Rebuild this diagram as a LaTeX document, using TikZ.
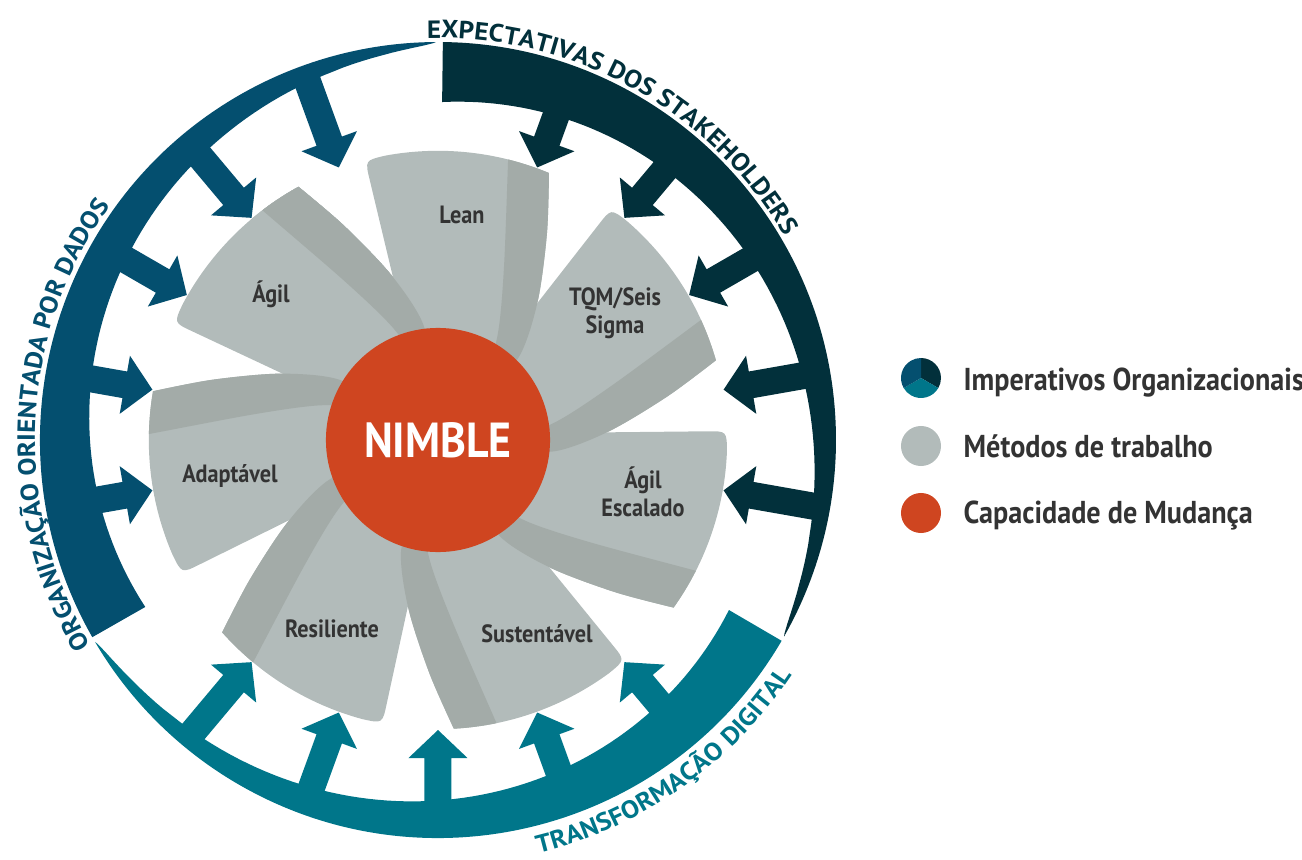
\documentclass[tikz,border=0pt]{standalone}
\usepackage{fontspec}
\setmainfont{PT Sans}[FakeStretch=0.89]
\newfontfamily\ringfam{PT Sans}[FakeStretch=1.08]
\usetikzlibrary{decorations.text}
\definecolor{navy}{HTML}{02303B}
\definecolor{ocean}{HTML}{044F6F}
\definecolor{sea}{HTML}{00768A}
\definecolor{petalbg}{HTML}{B2BBBA}
\definecolor{petalrim}{HTML}{A3ABA8}
\definecolor{core}{HTML}{CF4520}
\definecolor{ink}{HTML}{333333}
\newcommand\ringfont{\ringfam\bfseries\fontsize{7.1}{8}\selectfont}
% one blade, drawn for the top position and turned for the others
\newcommand\petalpath{(30,30) -- plot[smooth] coordinates {(45,40) (82,85) (100,140) (109,207) (111,267)}
  arc[start angle=67.4, end angle=100.5, radius=289] .. controls (-73,279.6) .. (-68.3,260.2)
  -- (-30,100) -- (0,20) -- cycle}
\newcommand\rimpath{(35,20) -- plot[smooth] coordinates {(45,50) (60,107) (66,173) (70,277) (72,330)}
  -- (250,330) -- (250,0) -- cycle}
\newcommand\inarrow{(290,0) -- (318,29.5) -- (318,13.5) -- (395,13.5) -- (395,-13.5) -- (318,-13.5) -- (318,-29.5) -- cycle}
\newcommand\drawpetal[1]{%
  \begin{scope}[rotate=#1]
    \fill[petal] \petalpath;
    \begin{scope}
      \clip \petalpath;
      \fill[rim] \rimpath;
    \end{scope}
  \end{scope}}
\tikzset{
  petal/.style={fill=petalbg},
  rim/.style={fill=petalrim},
  method/.style={font=\bfseries\fontsize{7.1}{8}\selectfont, text=ink, align=center, inner sep=0pt},
  keytext/.style={font=\bfseries\fontsize{9}{10}\selectfont, text=ink, anchor=base west, inner sep=0pt},
  keydot/.style={circle, minimum size=0.4cm, inner sep=0pt}
}

\begin{document}
\begin{tikzpicture}[x=0.01cm, y=0.01cm]
  \useasboundingbox (-438,-420) rectangle (864,440);

  % outer ring
  \fill[sea] (-30.3:398) arc[start angle=-30.3, end angle=-149.5, radius=398]
    -- plot[domain=-149.1:-30.3, samples=80] (\x:{398-61*pow((\x+149.5)/119.2,0.7)}) -- cycle;
  \fill[navy] (89.3:398) arc[start angle=89.3, end angle=-29.6, radius=398]
    -- plot[domain=-29.2:89.3, samples=80] (\x:{398-60*pow((\x+29.6)/118.9,0.7)}) -- cycle;
  \fill[ocean] (209.7:398) arc[start angle=209.7, end angle=90.3, radius=398]
    -- plot[domain=90.7:209.7, samples=80] (\x:{398-61*pow((\x-90.3)/119.4,0.7)}) -- cycle;

  \foreach \a in {110,130,...,190}{
    \fill[ocean, rotate=\a] \inarrow;
  }
  \foreach \a in {-10,10,...,70}{
    \fill[navy, rotate=\a] \inarrow;
  }
  \foreach \a in {-130,-110,...,-50}{
    \fill[sea, rotate=\a] \inarrow;
  }

  \path[decorate, decoration={text along path, text align=center, text color=navy,
    text={|\ringfont|EXPECTATIVAS DOS STAKEHOLDERS}}]
    (121:402) arc[start angle=121, end angle=1, radius=402];
  \path[decorate, decoration={text along path, text align=center, text color=ocean,
    text={|\ringfont|ORGANIZAÇÃO ORIENTADA POR DADOS}}]
    (237.5:403) arc[start angle=237.5, end angle=117.5, radius=403];
  \path[decorate, decoration={text along path, text align=center, text color=sea,
    text={|\ringfont|TRANSFORMAÇÃO DIGITAL}}]
    (-95:425) arc[start angle=-95, end angle=-15, radius=425];

  % blades, each one over its clockwise neighbour
  \foreach \k in {6,5,...,0}{
    \pgfmathsetmacro\turn{-51.4286*\k}
    \drawpetal{\turn}
  }
  \begin{scope}
    \clip (0,0) -- (80:300) arc[start angle=80, end angle=130, radius=300] -- cycle;
    \drawpetal{51.4286}
  \end{scope}

  \node[method, anchor=base] (lean) at (24,217) {Lean};
  \node[method] (tqm) at (177,127) {TQM/Seis\\Sigma};
  \node[method] (agilesc) at (205,-52) {Ágil\\Escalado};
  \node[method, anchor=base] (sust) at (99,-202) {Sustentável};
  \node[method, anchor=base] (resil) at (-106,-197) {Resiliente};
  \node[method, anchor=base] (adapt) at (-208,-42) {Adaptável};
  \node[method, anchor=base] (agil) at (-167,138) {Ágil};

  \node[circle, fill=core, minimum size=2.24cm, inner sep=0pt, text=white,
    font=\bfseries\fontsize{14}{16}\selectfont] (nimble) at (0,0) {NIMBLE};

  % legend
  \coordinate (keyring) at (483,62);
  \fill[navy] (keyring) -- ++(90:20) arc[start angle=90, end angle=-30, radius=20] -- cycle;
  \fill[sea] (keyring) -- ++(-30:20) arc[start angle=-30, end angle=-150, radius=20] -- cycle;
  \fill[ocean] (keyring) -- ++(210:20) arc[start angle=210, end angle=90, radius=20] -- cycle;
  \node[keydot, fill=petalbg] (keymethods) at (483,-6) {};
  \node[keydot, fill=core] (keycore) at (483,-73) {};
  \node[keytext] (txtring) at (525,50) {Imperativos Organizacionais};
  \node[keytext] (txtmethods) at (525,-17) {Métodos de trabalho};
  \node[keytext] (txtcore) at (525,-83) {Capacidade de Mudança};
\end{tikzpicture}
\end{document}
